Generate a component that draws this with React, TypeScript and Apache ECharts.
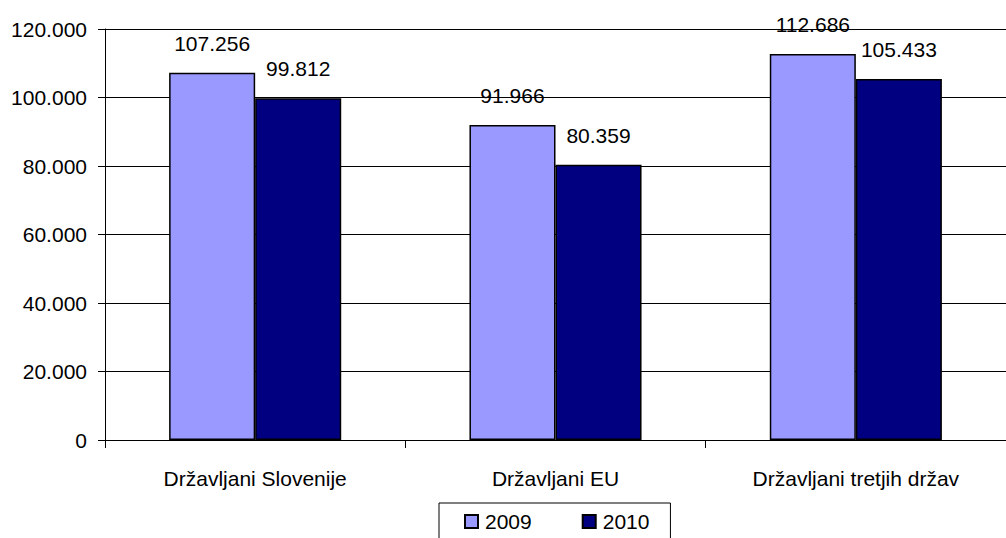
import React, { useEffect, useRef } from "react";
import * as echarts from "echarts";

const categories = ["Državljani Slovenije", "Državljani EU", "Državljani tretjih držav"];
const values2009 = [107256, 91966, 112686];
const values2010 = [99812, 80359, 105433];
const seriesNames = ["2009", "2010"];
const yTicks = { min: 0, max: 120000, interval: 20000 };

const fmt = (v: number) => String(Math.round(v)).replace(/\B(?=(\d{3})+(?!\d))/g, ".");

const FONT = "Liberation Sans, Arial, sans-serif";
const FS = 21;

export default function App() {
  const ref = useRef<HTMLDivElement>(null);
  useEffect(() => {
    if (!ref.current) return;
    const chart = echarts.init(ref.current, undefined, { renderer: "svg" });
    const label = {
      show: true,
      position: "top" as const,
      distance: 19,
      color: "#000",
      fontSize: FS,
      fontFamily: FONT,
      formatter: (p: any) => fmt(p.value),
    };
    chart.setOption({
      animation: false,
      backgroundColor: "#fff",
      textStyle: { fontFamily: FONT },
      grid: { left: 105, right: 0, top: 29, bottom: 98, containLabel: false },
      legend: {
        data: seriesNames,
        left: 439,
        top: 503,
        padding: [8, 21, 14, 25],
        borderColor: "#000",
        borderWidth: 1,
        itemWidth: 13,
        itemHeight: 13,
        itemGap: 50,
        icon: "rect",
        textStyle: { fontSize: FS, color: "#000", fontFamily: FONT, padding: [0, 0, 0, 2] },
      },
      xAxis: {
        type: "category",
        data: categories,
        axisLine: { show: true, lineStyle: { color: "#000", width: 1 } },
        axisTick: { show: true, length: 8, lineStyle: { color: "#000" } },
        axisLabel: { color: "#000", fontSize: FS, fontFamily: FONT, margin: 28 },
        splitLine: { show: false },
      },
      yAxis: {
        type: "value",
        min: yTicks.min,
        max: yTicks.max,
        interval: yTicks.interval,
        axisLine: { show: true, lineStyle: { color: "#000", width: 1 } },
        axisTick: { show: true, length: 7, lineStyle: { color: "#000" } },
        axisLabel: { color: "#000", fontSize: FS, fontFamily: FONT, margin: 18, formatter: (v: number) => fmt(v) },
        splitLine: { show: true, lineStyle: { color: "#000", width: 1 } },
      },
      series: [
        {
          name: seriesNames[0],
          type: "bar",
          data: values2009,
          barGap: "0%",
          barCategoryGap: "42.7%",
          itemStyle: { color: "#9999FF", borderColor: "#000", borderWidth: 1.5 },
          label,
        },
        {
          name: seriesNames[1],
          type: "bar",
          data: values2010,
          barGap: "0%",
          barCategoryGap: "42.7%",
          itemStyle: { color: "#000080", borderColor: "#000", borderWidth: 1.5 },
          label,
        },
      ],
    });
    return () => chart.dispose();
  }, []);
  return <div ref={ref} style={{ width: 1006, height: 538, position: "absolute", left: 0, top: 0 }} />;
}
